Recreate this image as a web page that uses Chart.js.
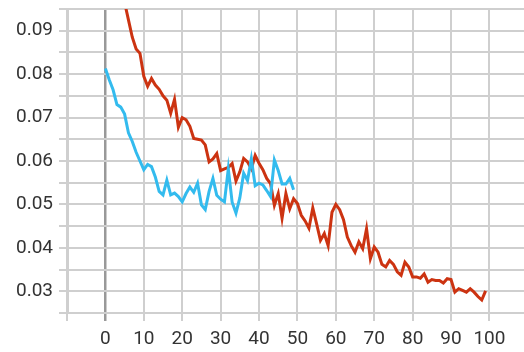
<!DOCTYPE html>
<html lang="en">
<head>
    <meta charset="UTF-8">
    <title>Loss</title>
    <style>
        html, body {
            margin: 0;
            padding: 0;
            background: #ffffff;
        }
        .chart-box {
            width: 524px;
            height: 352px;
        }
    </style>
    <script src="https://cdn.jsdelivr.net/npm/chart.js"></script>
</head>
<body>
    <div class="chart-box">
        <canvas id="lossChart"></canvas>
    </div>
    <script>
        // values per step (index = step)
        const redValues = [
            0.115, 0.111, 0.107, 0.103, 0.099, 0.0965, 0.0925, 0.0885, 0.0858, 0.0848,
            0.0795, 0.0772, 0.0790, 0.0775, 0.0765, 0.0750, 0.0740, 0.0710, 0.0742, 0.0678,
            0.0700, 0.0695, 0.0680, 0.0652, 0.0650, 0.0648, 0.0637, 0.0598, 0.0605, 0.0617,
            0.0578, 0.0582, 0.0585, 0.0594, 0.0554, 0.0575, 0.0606, 0.0598, 0.0582, 0.0613,
            0.0595, 0.0580, 0.0560, 0.0548, 0.0498, 0.0525, 0.0468, 0.0525, 0.0490, 0.0513,
            0.0502, 0.0475, 0.0462, 0.0445, 0.0492, 0.0455, 0.0417, 0.0433, 0.0405, 0.0482,
            0.0500, 0.0488, 0.0465, 0.0425, 0.0405, 0.0390, 0.0414, 0.0398, 0.0444, 0.0375,
            0.0402, 0.0390, 0.0362, 0.0356, 0.0371, 0.0362, 0.0345, 0.0337, 0.0367, 0.0356,
            0.0333, 0.0333, 0.0330, 0.0340, 0.0321, 0.0327, 0.0325, 0.0325, 0.0319, 0.0329,
            0.0327, 0.0298, 0.0306, 0.0302, 0.0298, 0.0306, 0.0298, 0.0288, 0.0280, 0.0301
        ];
        const blueValues = [
            0.0813, 0.0787, 0.0764, 0.0730, 0.0724, 0.0708, 0.0665, 0.0645, 0.0620, 0.0600,
            0.0580, 0.0592, 0.0587, 0.0563, 0.0530, 0.0522, 0.0556, 0.0522, 0.0526, 0.0518,
            0.0506, 0.0525, 0.0540, 0.0528, 0.0549, 0.0499, 0.0488, 0.0530, 0.0560, 0.0521,
            0.0512, 0.0506, 0.0582, 0.0505, 0.0480, 0.0515, 0.0572, 0.0555, 0.0605, 0.0543,
            0.0549, 0.0545, 0.0532, 0.0518, 0.0602, 0.0578, 0.0547, 0.0547, 0.0560, 0.0534
        ];

        const toPoints = vals => vals.map((v, i) => ({ x: i, y: v }));

        const gridColor = '#cfcfcf';

        new Chart(document.getElementById('lossChart'), {
            type: 'line',
            data: {
                datasets: [
                    {
                        label: 'blue',
                        data: toPoints(blueValues),
                        borderColor: '#33bbee',
                        borderWidth: 3,
                        pointRadius: 0,
                        tension: 0,
                        fill: false
                    },
                    {
                        label: 'red',
                        data: toPoints(redValues),
                        borderColor: '#cc3311',
                        borderWidth: 3,
                        pointRadius: 0,
                        tension: 0,
                        fill: false
                    }
                ]
            },
            options: {
                responsive: true,
                maintainAspectRatio: false,
                animation: false,
                layout: { padding: { top: 9, right: 0, left: 0, bottom: 0 } },
                plugins: {
                    legend: { display: false },
                    tooltip: { enabled: false }
                },
                scales: {
                    x: {
                        type: 'linear',
                        min: -10,
                        max: 109,
                        afterFit: s => {
                            s.height = 39;
                            s.paddingLeft = 0;
                            s.paddingRight = 0;
                        },
                        border: { color: gridColor, width: 2 },
                        grid: {
                            tickLength: 8,
                            color: c => c.tick && c.tick.value === 0 ? '#999999' : gridColor,
                            lineWidth: c => c.tick && c.tick.value === 0 ? 2.5 : 2
                        },
                        ticks: {
                            stepSize: 10,
                            includeBounds: false,
                            maxRotation: 0,
                            autoSkip: false,
                            padding: 7,
                            color: '#333333',
                            font: { family: 'Roboto', size: 19 },
                            callback: v => v < 0 ? '' : String(v)
                        }
                    },
                    y: {
                        min: 0.025,
                        max: 0.095,
                        afterFit: s => {
                            s.width = 67;
                            s.paddingTop = 0;
                            s.paddingBottom = 0;
                        },
                        border: { color: gridColor, width: 3 },
                        grid: { tickLength: 8, color: gridColor, lineWidth: 2 },
                        ticks: {
                            stepSize: 0.005,
                            maxTicksLimit: 30,
                            autoSkip: false,
                            padding: 6,
                            color: '#333333',
                            font: { family: 'Roboto', size: 19 },
                            callback: v => {
                                const k = Math.round(v * 1000);
                                return k % 10 === 0 ? (k / 1000).toFixed(2) : '';
                            }
                        }
                    }
                }
            }
        });
    </script>
</body>
</html>
